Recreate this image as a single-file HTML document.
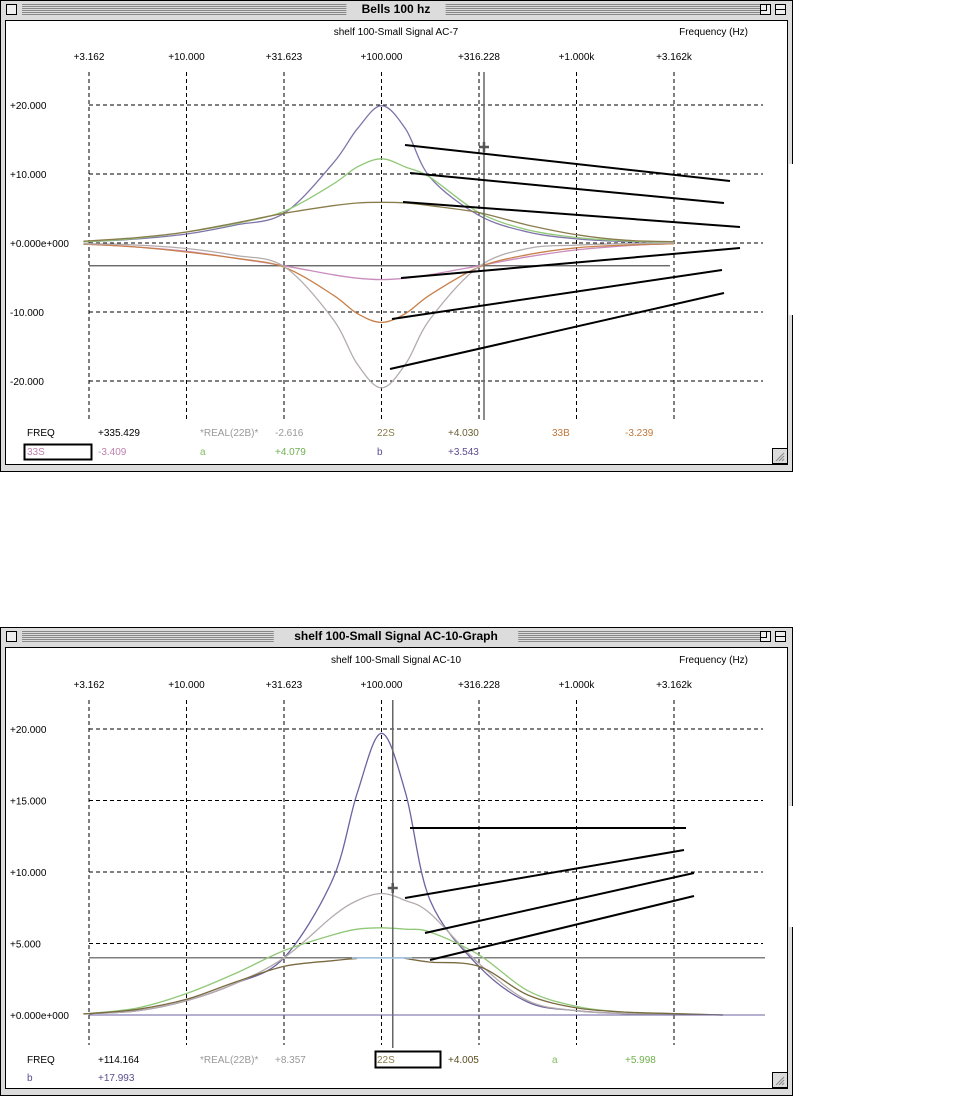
<!DOCTYPE html>
<html><head><meta charset="utf-8">
<style>
html,body{margin:0;padding:0;background:#fff;width:953px;height:1097px;overflow:hidden;font-family:"Liberation Sans",sans-serif;}
svg{position:absolute;left:0;top:0}
</style></head>
<body>
<svg id="root" width="953" height="1097" viewBox="0 0 953 1097" xmlns="http://www.w3.org/2000/svg"></svg>
<script>
// ---------- DATA ----------
const freqTicks = [3.162, 10, 31.623, 100, 316.228, 1000, 3162];
const freqTickLabels = ["+3.162","+10.000","+31.623","+100.000","+316.228","+1.000k","+3.162k"];
const freqs = [3.162,5.623,10,17.78,31.62,56.23,75,100,133,177.8,316.2,562.3,1000,1778,3162,5623];

const topYTicks = [20,10,0,-10,-20];
const topYLabels = ["+20.000","+10.000","+0.000e+000","-10.000","-20.000"];
const topB      = [0.2,0.6,1.3,2.6,4.3,11.5,16.5,19.9,16.5,9.5,4.0,1.6,0.6,0.2,0.1];
const topA      = [0.2,0.7,1.6,2.8,4.6,8.5,11,12.2,11,9.5,4.4,1.9,0.8,0.3,0.1];
const top22S    = [0.3,0.8,1.6,2.9,4.3,5.4,5.8,5.9,5.8,5.4,4.4,2.6,1.2,0.4,0.2];
const top33S    = [-0.2,-0.6,-1.2,-2.2,-3.3,-4.6,-5.1,-5.3,-5.1,-4.6,-3.3,-2.0,-1.0,-0.4,-0.1];
const top33B    = [-0.2,-0.6,-1.3,-2.2,-3.5,-7.5,-10.2,-11.5,-10.2,-7.5,-3.5,-1.7,-0.7,-0.3,-0.1];
const topReal   = [-0.1,-0.3,-0.8,-1.8,-3.4,-11,-17.5,-21,-17.5,-11,-3.4,-0.8,-0.3,-0.1,0];
const topCursorFreq = 335.4;
const topRefLevel = -3.3;

const botYTicks = [20,15,10,5,0];
const botYLabels = ["+20.000","+15.000","+10.000","+5.000","+0.000e+000"];
const botB    = [0.1,0.3,1.0,2.2,4.0,9.5,15.5,19.7,15.5,8.0,3.4,0.9,0.3,0.1,0.05,0];
const botReal = [0.1,0.3,1.0,2.2,4.0,6.9,8.0,8.5,8.0,7.1,3.6,1.0,0.3,0.1,0.05,0];
const botA    = [0.1,0.5,1.5,2.9,4.5,5.6,6.0,6.1,6.0,5.8,4.2,1.7,0.6,0.2,0.1,0];
const bot22S  = [0.1,0.4,1.1,2.3,3.4,3.8,3.95,null,3.95,3.7,3.4,1.4,0.5,0.2,0.1,0];
const botCursorFreq = 114.2;
const botRefLevel = 4.0;

// ---------- HELPERS ----------
const NS="http://www.w3.org/2000/svg";
const root=document.getElementById('root');
function el(tag,attrs,parent){const e=document.createElementNS(NS,tag);for(const k in attrs)e.setAttribute(k,attrs[k]);(parent||root).appendChild(e);return e;}
function txt(x,y,s,fill,size,parent,anchor,weight){const t=el('text',{x:x,y:y,fill:fill||'#000','font-size':size||10,'font-family':'Liberation Sans, sans-serif','text-anchor':anchor||'start','font-weight':weight||'normal'},parent);t.textContent=s;return t;}
const xScale=f=>89+(Math.log10(f)-Math.log10(3.162))*195;

function smoothPath(pts){
  let d='M'+pts[0][0].toFixed(1)+','+pts[0][1].toFixed(1);
  for(let i=0;i<pts.length-1;i++){
    const p0=pts[i-1]||pts[i],p1=pts[i],p2=pts[i+1],p3=pts[i+2]||p2;
    const c1=[p1[0]+(p2[0]-p0[0])/6,p1[1]+(p2[1]-p0[1])/6];
    const c2=[p2[0]-(p3[0]-p1[0])/6,p2[1]-(p3[1]-p1[1])/6];
    d+=' C'+c1[0].toFixed(1)+','+c1[1].toFixed(1)+' '+c2[0].toFixed(1)+','+c2[1].toFixed(1)+' '+p2[0].toFixed(1)+','+p2[1].toFixed(1);
  }
  return d;
}
function drawWindow(g,y0,h,title){
  el('rect',{x:0.5,y:y0+0.5,width:792,height:h,fill:'#dcdcdc',stroke:'#000'},g);
  for(let i=0;i<6;i++){el('line',{x1:22,x2:760,y1:y0+4+i*2+0.5,y2:y0+4+i*2+0.5,stroke:'#888','stroke-width':1},g);}
  const tw=title.length*6.6+20;
  el('rect',{x:396-tw/2,y:y0+2,width:tw,height:14,fill:'#dcdcdc'},g);
  const t=txt(396,y0+13,title,'#000',12,g,'middle','bold');
  
  const cb=el('rect',{x:6.5,y:y0+4.5,width:10,height:10,fill:'#eee',stroke:'#000'},g);
  
  const zb=el('rect',{x:760.5,y:y0+4.5,width:10,height:10,fill:'#eee',stroke:'#000'},g);
  
  el('rect',{x:760.5,y:y0+4.5,width:6,height:6,fill:'none',stroke:'#000'},g);
  const wb=el('rect',{x:775.5,y:y0+4.5,width:10,height:10,fill:'#eee',stroke:'#000'},g);
  
  el('line',{x1:776,x2:785,y1:y0+9.5,y2:y0+9.5,stroke:'#000'},g);
  el('rect',{x:5.5,y:y0+20.5,width:782,height:h-27,fill:'#fff',stroke:'#000'},g);
  const gb=el('rect',{x:772.5,y:y0+h-22.5,width:15,height:15,fill:'#dcdcdc',stroke:'#000'},g);
  
  for(let i=0;i<3;i++)el('line',{x1:776+i*3,y1:y0+h-10,x2:784,y2:y0+h-18+i*3,stroke:'#888'},g);
}
function drawChart(g,opt){
  const y=v=>opt.y0-(v)*opt.ppu;
  // subtitle
  txt(396,opt.sub,opt.subtitle,'#000',10,g,'middle');
  const fl=txt(748,opt.sub,'Frequency   (Hz)','#000',10,g,'end');
  
  // x ticks
  freqTicks.forEach((f,i)=>{
    const x=xScale(f);
    const t=txt(x,opt.tickY,freqTickLabels[i],'#000',10,g,'middle');
    
    const l=el('line',{x1:x,x2:x,y1:opt.gTop,y2:opt.gBot,stroke:'#000','stroke-dasharray':'4,3'},g);
    
  });
  opt.yTicks.forEach((v,i)=>{
    const yy=y(v);
    const t=txt(10,yy+4,opt.yLabels[i],'#000',10,g);
    
    const l=el('line',{x1:89,x2:763,y1:yy,y2:yy,stroke:'#000','stroke-dasharray':'4,3'},g);
    
  });
  const rl=el('line',{x1:89,x2:opt.refEnd,y1:y(opt.ref),y2:y(opt.ref),stroke:'#555','stroke-width':1.2},g);
  
  opt.series.forEach(s=>{
    let seg=[];const segs=[];
    s.vals.forEach((v,i)=>{if(v===null){if(seg.length)segs.push(seg);seg=[];}else seg.push([xScale(freqs[i]),y(v)]);});
    if(seg.length)segs.push(seg);
    segs.forEach(sg=>{
      sg.unshift([85,sg[0][1]]&&sg[0][0]===89?[85,sg[0][1]]:sg[0]);
      const p=el('path',{d:smoothPath(sg),fill:'none',stroke:s.color,'stroke-width':1.3},g);
      
    });
  });
  const cx=xScale(opt.cursor);
  const cl=el('line',{x1:cx,x2:cx,y1:opt.gTop,y2:opt.cursorBot,stroke:'#666','stroke-width':1.5},g);
  
  const cc=el('path',{d:`M${cx-5},${opt.crossY} h10 M${cx},${opt.crossY-5} v10`,stroke:'#555','stroke-width':2.5,fill:'none'},g);
  
}

// ---------- TOP WINDOW ----------
const g1=el('g',{});
drawWindow(g1,0,471,'Bells 100 hz');
drawChart(g1,{y0:243,ppu:6.9,sub:35,subtitle:'shelf 100-Small Signal AC-7',tickY:60,gTop:72,gBot:420,
 yTicks:topYTicks,yLabels:topYLabels,ref:topRefLevel,refEnd:670,cursor:topCursorFreq,cursorBot:420,crossY:147,
 series:[{name:'series-b',vals:topB,color:'#7f73aa'},{name:'series-a',vals:topA,color:'#90c878'},
 {name:'series-22s',vals:top22S,color:'#8a7c4c'},{name:'series-33s',vals:top33S,color:'#c98cbc'},
 {name:'series-33b',vals:top33B,color:'#c8804a'},{name:'series-real-22b',vals:topReal,color:'#b4acac'}]});
[[405,145,730,181],[410,173,724,203],[403,202,740,227],[401,278,740,248],[392,319,722,270],[390,369,724,293]].forEach(a=>{
  const l=el('line',{x1:a[0],y1:a[1],x2:a[2],y2:a[3],stroke:'#000','stroke-width':2},g1);
  
});
const r1=[['FREQ',27,'#000'],['+335.429',98,'#000'],['*REAL(22B)*',200,'#999'],['-2.616',275,'#999'],['22S',377,'#8a7c4c'],['+4.030',448,'#6b5e30'],['33B',552,'#c0783c'],['-3.239',625,'#c0783c']];
r1.forEach(r=>{const t=txt(r[1],436,r[0],r[2],10,g1);});
const r2=[['33S',27,'#c080b0'],['-3.409',98,'#c080b0'],['a',200,'#80c060'],['+4.079',275,'#70b050'],['b',377,'#5a4c90'],['+3.543',448,'#5a4c90']];
r2.forEach(r=>{const t=txt(r[1],455,r[0],r[2],10,g1);});
const sb1=el('rect',{x:24.5,y:444.5,width:67,height:15,fill:'none',stroke:'#000','stroke-width':2},g1);

el('rect',{x:789,y:164,width:164,height:151,fill:'#fff'},g1);

// ---------- BOTTOM WINDOW ----------
const g2=el('g',{});
drawWindow(g2,627,468,'shelf 100-Small Signal AC-10-Graph');
drawChart(g2,{y0:1015,ppu:14.3,sub:663,subtitle:'shelf 100-Small Signal AC-10',tickY:688,gTop:700,gBot:1045,
 yTicks:botYTicks,yLabels:botYLabels,ref:botRefLevel,refEnd:765,cursor:botCursorFreq,cursorBot:1048,crossY:888,
 series:[{name:'series-b',vals:botB,color:'#6e62a0'},{name:'series-real-22b',vals:botReal,color:'#b4acac'},
 {name:'series-a',vals:botA,color:'#90c878'},{name:'series-22s',vals:bot22S,color:'#7a6a40'}]});
const bl=el('line',{x1:352,x2:412,y1:958,y2:958,stroke:'#a8c8e8','stroke-width':1.5},g2);

const zl=el('line',{x1:89,x2:765,y1:1015,y2:1015,stroke:'#6e62a0','stroke-width':1},g2);

[[410,828,686,828],[405,898,684,850],[425,933,694,873],[430,960,694,896]].forEach(a=>{
  const l=el('line',{x1:a[0],y1:a[1],x2:a[2],y2:a[3],stroke:'#000','stroke-width':2},g2);
  
});
const r3=[['FREQ',27,'#000'],['+114.164',98,'#000'],['*REAL(22B)*',200,'#999'],['+8.357',275,'#999'],['22S',377,'#8a7c4c'],['+4.005',448,'#5a4c20'],['a',552,'#80c060'],['+5.998',625,'#70b050']];
r3.forEach(r=>{const t=txt(r[1],1063,r[0],r[2],10,g2);});
[['b',27,'#5a4c90'],['+17.993',98,'#5a4c90']].forEach(r=>{const t=txt(r[1],1081,r[0],r[2],10,g2);});
const sb2=el('rect',{x:375.5,y:1051.5,width:65,height:16,fill:'none',stroke:'#000','stroke-width':2},g2);

el('rect',{x:789,y:806,width:164,height:121,fill:'#fff'},g2);
</script>
</body></html>
